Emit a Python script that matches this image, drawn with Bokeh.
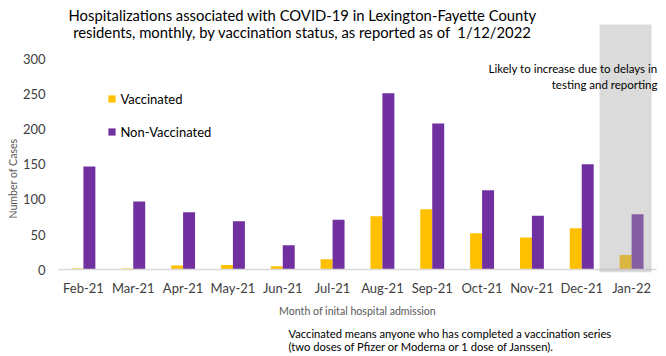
from bokeh.plotting import figure
from bokeh.models import (ColumnDataSource, FixedTicker, Label, Legend,
                          LegendItem, Range1d, BoxAnnotation)
from bokeh.transform import dodge
from bokeh.embed import file_html
from bokeh.resources import INLINE

months = ["Feb-21", "Mar-21", "Apr-21", "May-21", "Jun-21", "Jul-21",
          "Aug-21", "Sep-21", "Oct-21", "Nov-21", "Dec-21", "Jan-22"]
vaccinated = [2, 2, 6, 7, 5, 15, 76, 86, 52, 46, 59, 21]
non_vaccinated = [147, 97, 82, 69, 35, 71, 251, 208, 113, 77, 150, 79]
y_ticks = [0, 50, 100, 150, 200, 250, 300]

title_lines = ["Hospitalizations associated with COVID-19 in Lexington-Fayette County",
               "residents, monthly, by vaccination status, as reported as of \u00a01/12/2022"]
note_lines = ["Likely to increase due to delays in", "testing and reporting"]
foot_lines = ["Vaccinated means anyone who has completed a vaccination series",
              "(two doses of Pfizer or Moderna or 1 dose of Janssen)."]

FONT = "Lato"
VAC = "#FFC000"
NON = "#7030A0"

# canvas / layout geometry (pixels)
W, H = 666, 356
PLOT_L, PLOT_R = 58, 656          # left / right edge of the category band
Y0_PX, YTOP_PX = 269.3, 58.3      # pixel rows of value 0 and of the top tick
n = len(months)
xs = (PLOT_R - PLOT_L) / n
ys = (Y0_PX - YTOP_PX) / y_ticks[-1]
x_start = -0.5 - PLOT_L / xs
x_end = n - 0.5 + (W - PLOT_R) / xs
y_end = Y0_PX / ys
y_start = -(H - Y0_PX) / ys

idx = list(range(n))
src = ColumnDataSource(dict(x=idx, vac=vaccinated, non=non_vaccinated))

p = figure(width=W, height=H, x_range=Range1d(x_start, x_end), y_range=Range1d(y_start, y_end),
           output_backend="svg", toolbar_location=None,
           min_border_left=0, min_border_right=0, min_border_top=0, min_border_bottom=0)
p.xgrid.visible = False
p.ygrid.visible = False
p.outline_line_color = None
p.background_fill_color = "white"
p.border_fill_color = "white"

r1 = p.vbar(x=dodge("x", -0.12, range=p.x_range), top="vac", width=0.24, bottom=0,
            source=src, fill_color=VAC, line_color=None)
r2 = p.vbar(x=dodge("x", 0.12, range=p.x_range), top="non", width=0.24, bottom=0,
            source=src, fill_color=NON, line_color=None)

for ax in (p.xaxis[0], p.yaxis[0]):
    ax.major_tick_line_color = None
    ax.minor_tick_line_color = None
    ax.major_tick_out = 0
    ax.major_tick_in = 0
    ax.minor_tick_out = 0
    ax.minor_tick_in = 0
    ax.major_label_text_font = FONT
    ax.major_label_text_font_size = "13px"
    ax.major_label_text_color = "#404040"
    ax.axis_label_text_font = FONT
    ax.axis_label_text_font_size = "10.6px"
    ax.axis_label_text_font_style = "normal"
    ax.axis_label_text_color = "#595959"

p.xaxis.fixed_location = 0
p.xaxis.bounds = (-0.5, n - 0.5)
p.xaxis.axis_line_color = "#D9D9D9"
p.xaxis.axis_line_width = 1.5
p.xaxis.ticker = FixedTicker(ticks=idx)
p.xaxis.major_label_overrides = {i: m for i, m in zip(idx, months)}
p.xaxis.major_label_standoff = 10
p.xaxis.axis_label = "Month of inital hospital admission"
p.xaxis.axis_label_standoff = 6

p.yaxis.fixed_location = -0.5
p.yaxis.axis_line_color = None
p.yaxis.ticker = FixedTicker(ticks=y_ticks)
p.yaxis.major_label_standoff = 13
p.yaxis.axis_label = "Number of Cases"
p.yaxis.axis_label_standoff = 1

p.add_layout(BoxAnnotation(left=10.357, right=11.40, bottom=-3.4, top=348.8,
                           fill_color="#A6A6A6", fill_alpha=0.4, line_color=None))

legend = Legend(items=[LegendItem(label="Vaccinated", renderers=[r1]),
                       LegendItem(label="Non-Vaccinated", renderers=[r2])],
                location=(107.4, H - 141.7), glyph_width=9, glyph_height=9, label_standoff=4,
                spacing=13, label_height=20, padding=0, margin=0,
                border_line_color=None, background_fill_alpha=0,
                label_text_font=FONT, label_text_font_size="13px",
                label_text_color="#000000")
p.add_layout(legend)

for text, y in zip(title_lines, [14.5, 31.5]):
    p.add_layout(Label(x=302, y=H - y, x_units="screen", y_units="screen", text=text,
                       text_align="center", text_baseline="middle", text_font=FONT,
                       text_font_size="14.8px", text_color="#000000"))
for text, y in zip(note_lines, [68, 83.5]):
    p.add_layout(Label(x=657, y=H - y, x_units="screen", y_units="screen", text=text,
                       text_align="right", text_baseline="middle", text_font=FONT,
                       text_font_size="11.5px", text_color="#000000"))
for text, y in zip(foot_lines, [332.5, 346]):
    p.add_layout(Label(x=288, y=H - y, x_units="screen", y_units="screen", text=text,
                       text_align="left", text_baseline="middle", text_font=FONT,
                       text_font_size="11.2px", text_color="#000000"))

open("out.html", "w").write(file_html(p, INLINE))
